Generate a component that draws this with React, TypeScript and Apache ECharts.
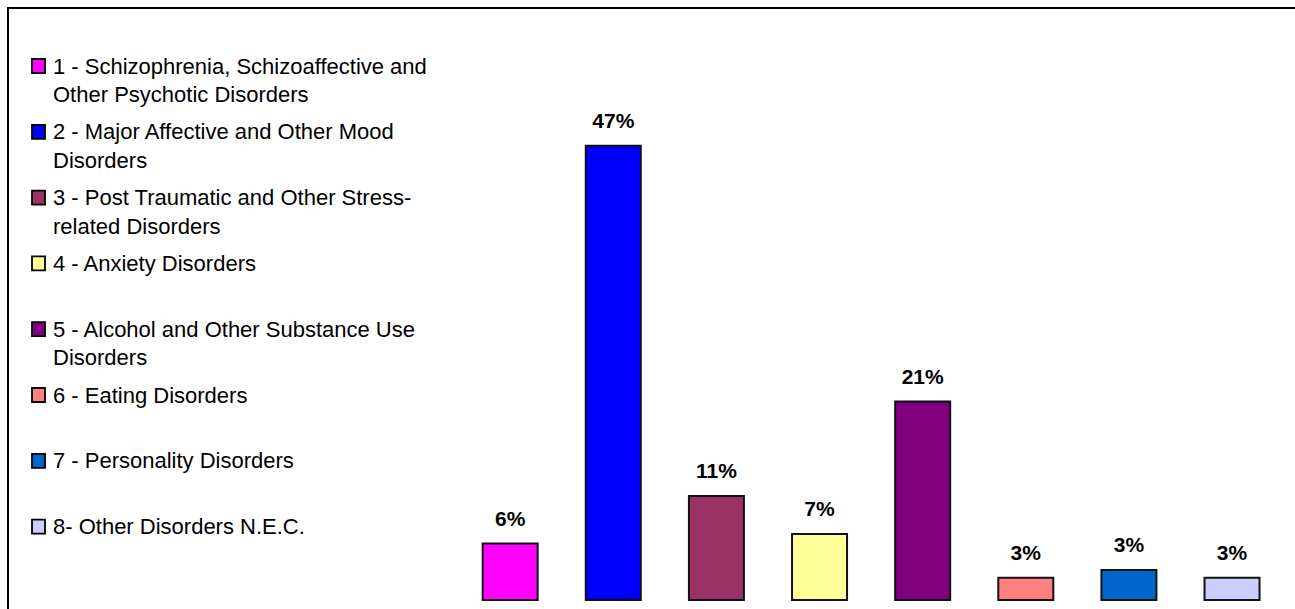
import React, { useEffect, useRef } from "react";
import * as echarts from "echarts";

const categories = ["1", "2", "3", "4", "5", "6", "7", "8"];
const legendLabels = [
  "1 - Schizophrenia, Schizoaffective and\nOther Psychotic Disorders",
  "2 - Major Affective and Other Mood\nDisorders",
  "3 - Post Traumatic and Other Stress-\nrelated Disorders",
  "4 - Anxiety Disorders",
  "5 - Alcohol and Other Substance Use\nDisorders",
  "6 - Eating Disorders",
  "7 - Personality Disorders",
  "8- Other Disorders N.E.C.",
];
const values = [6.0, 46.9, 10.9, 7.0, 20.6, 2.5, 3.3, 2.5];
const valueLabels = ["6%", "47%", "11%", "7%", "21%", "3%", "3%", "3%"];
const colors = ["#FF00FF", "#0000FF", "#993366", "#FFFF99", "#800080", "#FF8080", "#0066CC", "#CCCCFF"];

const FONT = "'Liberation Sans', Arial, sans-serif";

export default function App() {
  const ref = useRef<HTMLDivElement>(null);
  useEffect(() => {
    if (!ref.current) return;
    const chart = echarts.init(ref.current, null, { renderer: "svg" });
    const legendGraphics: any[] = [];
    legendLabels.forEach((lab, i) => {
      const cy = 66 + 65.8 * i;
      legendGraphics.push({
        type: "rect",
        silent: true,
        shape: { x: 32, y: cy - 7, width: 13, height: 14 },
        style: { fill: colors[i], stroke: "#000", lineWidth: 1.8 },
      });
      legendGraphics.push({
        type: "text",
        silent: true,
        x: 53,
        y: cy - 14.25,
        style: {
          text: lab,
          fill: "#000",
          font: `22px ${FONT}`,
          fontSize: 22,
          fontFamily: FONT,
          lineHeight: 28.5,
          verticalAlign: "top",
          align: "left",
        },
      });
    });
    chart.setOption({
      animation: false,
      backgroundColor: "#fff",
      grid: { left: 458.6, right: 11.4, top: 114.5, bottom: 8, containLabel: false },
      xAxis: {
        type: "category",
        data: categories,
        show: false,
      },
      yAxis: { type: "value", min: 0, max: 50, show: false },
      series: [
        {
          type: "bar",
          barWidth: 57,
          data: values.map((v, i) => ({
            value: v,
            itemStyle: { color: colors[i] },
            label: { formatter: valueLabels[i] },
          })),
          itemStyle: { borderColor: "#111", borderWidth: 2 },
          label: {
            show: true,
            position: "top",
            distance: 14,
            color: "#000",
            fontFamily: FONT,
            fontWeight: "bold",
            fontSize: 21,
          },
        },
      ],
      graphic: [
        {
          type: "rect",
          silent: true,
          shape: { x: 8, y: 8, width: 1400, height: 700 },
          style: { fill: "none", stroke: "#000", lineWidth: 2 },
        },
        ...legendGraphics,
      ],
    });
    return () => chart.dispose();
  }, []);
  return (
    <div
      ref={ref}
      style={{ position: "absolute", left: 0, top: 0, width: 1295, height: 609 }}
    />
  );
}
